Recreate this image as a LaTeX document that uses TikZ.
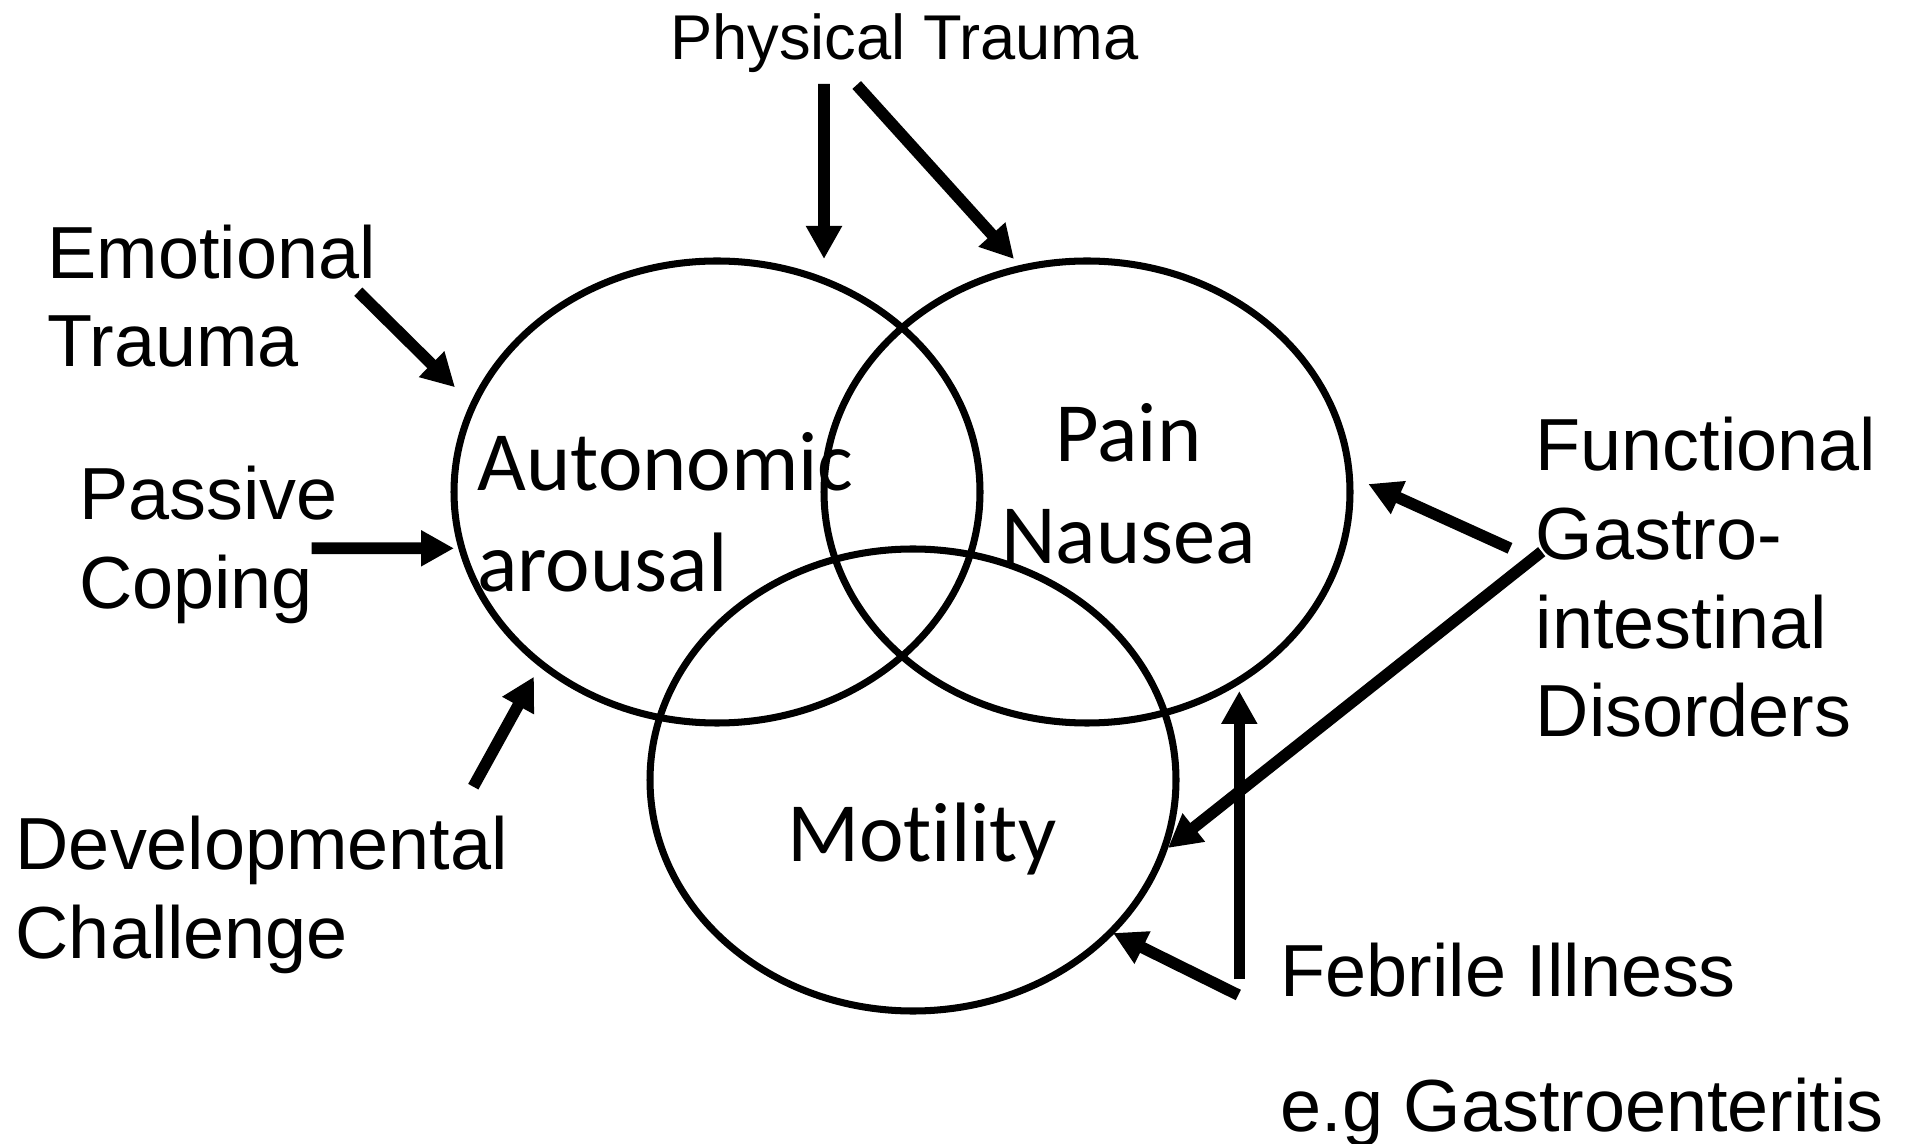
\documentclass[tikz,border=0pt]{standalone}
\usepackage{fontspec}
\setmainfont{Liberation Sans}
\newfontfamily\calibri[Ligatures=NoCommon]{Carlito}
\usepackage{tikz}
\usetikzlibrary{arrows.meta, shapes.geometric, positioning}

\begin{document}
\begin{tikzpicture}[
    circ/.style={ellipse, draw, line width=2pt, minimum width=5.26cm, minimum height=4.62cm, inner sep=0pt, outer sep=0pt},
    inlabel/.style={inner sep=0pt, font=\calibri\fontsize{24}{28.9}\selectfont},
    cause/.style={inner sep=0pt, align=left, anchor=base west, font=\fontsize{21}{25.2}\selectfont},
    arrow/.style={-{Triangle[length=3.3mm, width=3.4mm]}, line width=3.3pt},
]
    \useasboundingbox (0,0) rectangle (19.08,-11.44);

    % Three overlapping ellipses
    \node[circ] (auto) at (7.17,-4.92) {};
    \node[circ] (pain) at (10.87,-4.92) {};
    \node[circ] (mot) at (9.13,-7.80) {};

    % Labels inside the ellipses
    \node[inlabel, anchor=base west, align=left] (autotext) at (4.767,-5.917) {Autonomic\\arousal};
    \node[inlabel, anchor=base, align=center] (paintext) at (11.285,-5.633) {Pain\\Nausea};
    \node[inlabel, anchor=base] (mottext) at (9.217,-8.617) {Motility};

    % Causes around the ellipses
    \node[inner sep=0pt, anchor=base, font=\fontsize{18}{21.6}\selectfont] (phys) at (9.045,-0.593) {Physical Trauma};
    \node[cause] (emo) at (0.467,-3.667) {Emotional\\Trauma};
    \node[cause] (pass) at (0.783,-6.083) {Passive\\Coping};
    \node[cause] (dev) at (0.15,-9.583) {Developmental\\Challenge};
    \node[cause] (func) at (15.35,-7.367) {Functional\\Gastro-\\intestinal\\Disorders};
    \node[cause] (feb) at (12.80,-9.967) {Febrile Illness};
    \node[cause] (eg) at (12.80,-11.317) {e.g Gastroenteritis};

    % Arrow tips near the ellipses
    \coordinate (auto-top) at (8.24,-2.59);
    \coordinate (pain-top) at (10.14,-2.59);
    \coordinate (auto-nw) at (4.55,-3.873);
    \coordinate (auto-w) at (4.54,-5.483);
    \coordinate (auto-sw) at (5.34,-6.767);
    \coordinate (pain-e) at (13.683,-4.84);
    \coordinate (mot-e) at (11.68,-8.48);
    \coordinate (pain-s) at (12.393,-6.91);
    \coordinate (mot-se) at (11.13,-9.33);

    % Arrows
    \draw[arrow] ([shift={(-0.805,-0.247)}]phys.base) -- (auto-top);
    \draw[arrow] ([shift={(-0.478,-0.257)}]phys.base) -- (pain-top);
    \draw[arrow] ([shift={(3.116,0.75)}]emo.base west) -- (auto-nw);
    \draw[arrow] ([shift={(2.334,0.60)}]pass.base west) -- (auto-w);
    \draw[arrow] ([shift={(4.583,1.716)}]dev.base west) -- (auto-sw);
    \draw[arrow] ([shift={(-0.25,1.884)}]func.base west) -- (pain-e);
    \draw[arrow] ([shift={(0.067,1.85)}]func.base west) -- (mot-e);
    \draw[arrow] ([shift={(-0.407,0.174)}]feb.base west) -- (pain-s);
    \draw[arrow] ([shift={(-0.417,0.017)}]feb.base west) -- (mot-se);
\end{tikzpicture}
\end{document}
